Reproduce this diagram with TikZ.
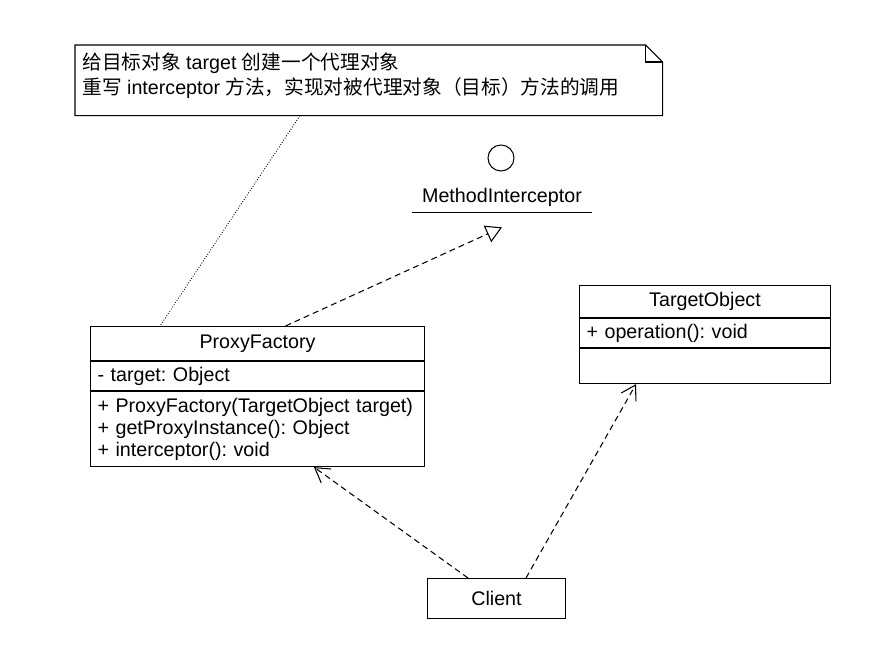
\documentclass[tikz,border=0pt]{standalone}
\usepackage{fontspec}
\setmainfont{Liberation Sans}
\newfontfamily\cjk{Noto Sans CJK SC}
\usetikzlibrary{positioning, calc, arrows.meta}
\frenchspacing

\begin{document}
\begin{tikzpicture}[
            x=0.02cm, y=-0.02cm,
            every node/.style={font=\fontsize{11.2}{12.5}\selectfont, inner sep=0pt},
            cls/.style={rectangle, draw=black, line width=0.6pt, anchor=north west, inner xsep=0.14cm},
            note/.style={draw=black, line width=0.6pt},
            dep/.style={-{Straight Barb[length=0.28cm, width=0.34cm]}, dash pattern=on 3.4pt off 2.3pt, line width=0.6pt},
            real/.style={-{Triangle[open, length=0.32cm, width=0.36cm]}, dash pattern=on 3.4pt off 2.3pt, line width=0.6pt},
            noteline/.style={densely dotted, line width=0.5pt, black}
        ]
            \useasboundingbox (0,0) rectangle (896,671);

            % Note
            \node[anchor=north west, minimum width=11.74cm, minimum height=1.4cm] (note) at (75,45) {};
            \draw[note] (note.north west) -- ([xshift=-0.34cm]note.north east) -- ([yshift=-0.34cm]note.north east) -- (note.south east) -- (note.south west) -- cycle;
            \draw[note] ([xshift=-0.34cm]note.north east) |- ([yshift=-0.34cm]note.north east);
            \node[anchor=north west, align=left, font=\fontsize{11.2}{14.2}\selectfont] (notetext) at ([xshift=0.14cm, yshift=-0.16cm]note.north west)
                {{\cjk 给目标对象} target {\cjk 创建一个代理对象}\\{\cjk 重写} interceptor {\cjk 方法，实现对被代理对象（目标）方法的调用}};

            % Interface
            \node[circle, draw=black, line width=0.6pt, minimum size=0.52cm] (mi) at (501,158) {};
            \node[minimum width=3.6cm, minimum height=0.6cm] (milabel) at (502,197) {MethodInterceptor};
            \draw[line width=0.6pt] (milabel.south west) -- (milabel.south east);

            % ProxyFactory
            \node[cls, minimum width=6.68cm, minimum height=0.68cm] (pf) at (90,326) {ProxyFactory};
            \node[cls, minimum height=0.58cm, text width=6.4cm, align=left] (pfattr) at (pf.south west) {- target: Object};
            \node[cls, minimum height=1.5cm, text width=6.4cm, align=left] (pfops) at (pfattr.south west)
                {+ ProxyFactory(TargetObject target)\\+ getProxyInstance(): Object\\+ interceptor(): void};

            % TargetObject
            \node[cls, minimum width=5.02cm, minimum height=0.64cm] (to) at (579,285) {TargetObject};
            \node[cls, minimum height=0.58cm, text width=4.74cm, align=left] (toops) at (to.south west) {+ operation(): void};
            \node[cls, minimum width=5.02cm, minimum height=0.7cm] (toempty) at (toops.south west) {};

            % Client
            \node[cls, minimum width=2.76cm, minimum height=0.8cm] (client) at (427,578) {Client};

            % Links
            \draw[noteline] ([xshift=4.5cm]note.south west) -- ([xshift=1.4cm]pf.north west);
            \draw[real] ([xshift=0.56cm]pf.north) -- ([yshift=-0.3cm]milabel.south);
            \draw[dep] ([xshift=0.82cm]client.north west) -- ([xshift=4.48cm]pfops.south west);
            \draw[dep] ([xshift=1.98cm]client.north west) -- ([xshift=1.14cm]toempty.south west);
        \end{tikzpicture}
\end{document}
